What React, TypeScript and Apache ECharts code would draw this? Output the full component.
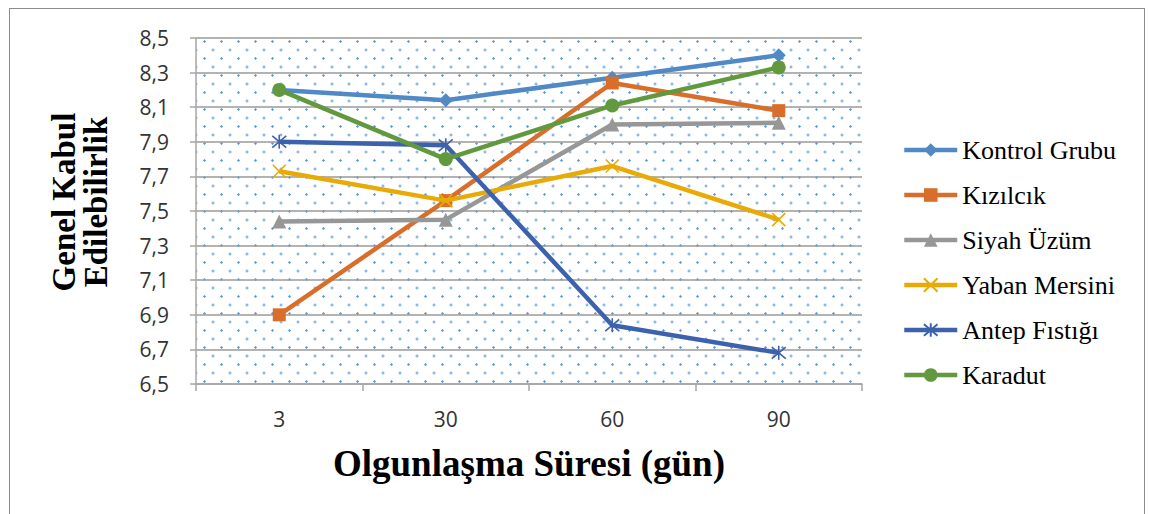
import React, { useEffect, useRef } from "react";
import * as echarts from "echarts";

const categories = ["3", "30", "60", "90"];
const seriesNames = ["Kontrol Grubu", "Kızılcık", "Siyah Üzüm", "Yaban Mersini", "Antep Fıstığı", "Karadut"];
const kontrol = [8.2, 8.14, 8.27, 8.4];
const kizilcik = [6.9, 7.56, 8.24, 8.08];
const siyahUzum = [7.44, 7.45, 8.0, 8.01];
const yabanMersini = [7.73, 7.56, 7.76, 7.45];
const antepFistigi = [7.9, 7.88, 6.84, 6.68];
const karadut = [8.2, 7.8, 8.11, 8.33];
const yMin = 6.5;
const yMax = 8.5;
const yStep = 0.2;
const xTitle = "Olgunlaşma Süresi (gün)";
const yTitle1 = "Genel Kabul";
const yTitle2 = "Edilebilirlik";

const colors = ["#5089C6", "#D96E2B", "#979797", "#E8AB05", "#3D62AD", "#62993E"];
const symbols = [
  "diamond",
  "rect",
  "triangle",
  "path://M0,0L10,10M10,0L0,10",
  "path://M0,0L10,10M10,0L0,10M5,-1L5,11",
  "circle",
];
const symbolSizes = [14, 13, 14, 13, 14, 14];
const stroked = [false, false, false, true, true, false];

export default function App() {
  const ref = useRef<HTMLDivElement>(null);
  useEffect(() => {
    if (!ref.current) return;
    const chart = echarts.init(ref.current, null, { renderer: "svg" });
    const allData = [kontrol, kizilcik, siyahUzum, yabanMersini, antepFistigi, karadut];
    const series = allData.map((d, i) => ({
      name: seriesNames[i],
      type: "line",
      data: d.map((v) => +(v - yMin).toFixed(4)),
      symbol: symbols[i],
      symbolSize: symbolSizes[i],
      lineStyle: { color: colors[i], width: 4.5 },
      itemStyle: stroked[i]
        ? { color: "rgba(0,0,0,0)", borderColor: colors[i], borderWidth: 1.6 }
        : { color: colors[i], borderWidth: 0 },
      emphasis: { disabled: true },
      z: 3 + i,
    }));
    chart.setOption({
      animation: false,
      backgroundColor: "transparent",
      grid: { left: 196, right: 287, top: 38, bottom: 130 },
      xAxis: {
        type: "category",
        data: categories,
        boundaryGap: true,
        axisLine: { show: true, lineStyle: { color: "#A6A6A6", width: 1.5 } },
        axisTick: { show: true, alignWithLabel: false, length: 7, lineStyle: { color: "#A6A6A6", width: 1.5 } },
        axisLabel: { color: "#333", fontFamily: "Open Sans", fontSize: 21, margin: 24 },
        splitLine: { show: false },
      },
      yAxis: {
        type: "value",
        min: 0,
        max: +(yMax - yMin).toFixed(4),
        interval: yStep,
        axisLine: { show: true, lineStyle: { color: "#A6A6A6", width: 1.5 } },
        axisTick: { show: true, length: 6, lineStyle: { color: "#A6A6A6", width: 1.5 } },
        axisLabel: {
          color: "#333",
          fontFamily: "Open Sans",
          fontSize: 21,
          margin: 27,
          formatter: (v: number) => (v + yMin).toFixed(1).replace(".", ","),
        },
        splitLine: { show: true, lineStyle: { color: "#9A9A9A", width: 1.5 } },
      },
      legend: {
        orient: "vertical",
        left: 902,
        top: 137,
        padding: 0,
        itemWidth: 53,
        itemHeight: 17,
        itemGap: 19,
        lineStyle: { width: 4.5 },
        textStyle: { fontFamily: "Liberation Serif", fontSize: 26, color: "#000" },
        data: seriesNames,
      },
      graphic: [
        {
          type: "text",
          x: 529,
          y: 463,
          style: {
            text: xTitle,
            fontFamily: "Liberation Serif",
            fontWeight: "bold",
            fontSize: 37,
            fill: "#000",
            align: "center",
            verticalAlign: "middle",
          },
        },
        {
          type: "text",
          x: 64,
          y: 202,
          rotation: Math.PI / 2,
          style: {
            text: yTitle1,
            fontFamily: "Liberation Serif",
            fontWeight: "bold",
            fontSize: 33,
            fill: "#000",
            align: "center",
            verticalAlign: "middle",
          },
        },
        {
          type: "text",
          x: 96,
          y: 202,
          rotation: Math.PI / 2,
          style: {
            text: yTitle2,
            fontFamily: "Liberation Serif",
            fontWeight: "bold",
            fontSize: 33,
            fill: "#000",
            align: "center",
            verticalAlign: "middle",
          },
        },
      ],
      series,
    });
    return () => chart.dispose();
  }, []);

  return (
    <div style={{ position: "fixed", left: 0, top: 0, width: 1149, height: 514, overflow: "hidden", background: "#fff" }}>
      <div
        style={{
          position: "absolute",
          left: 9,
          top: 8,
          width: 1136,
          height: 520,
          border: "1px solid #8C8C8C",
          boxSizing: "border-box",
        }}
      />
      <div
        style={{
          position: "absolute",
          left: 196,
          top: 38,
          width: 666,
          height: 346,
          backgroundImage:
            "radial-gradient(circle, #5B9BD5 0.9px, rgba(91,155,213,0) 1.5px), radial-gradient(circle, #5B9BD5 0.9px, rgba(91,155,213,0) 1.5px)",
          backgroundSize: "17px 17px, 17px 17px",
          backgroundPosition: "0px -5px, 8.5px 3.5px",
        }}
      />
      <div ref={ref} style={{ position: "absolute", left: 0, top: 0, width: 1149, height: 514 }} />
    </div>
  );
}
